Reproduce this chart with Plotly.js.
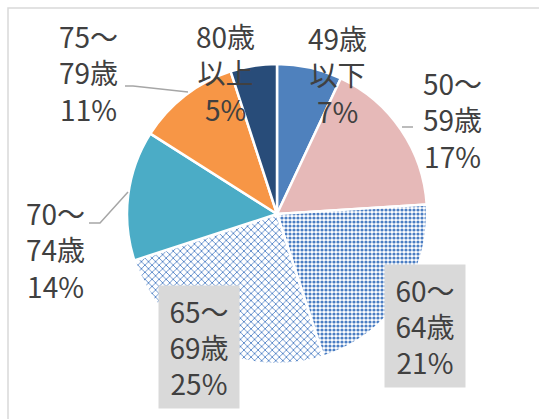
<!DOCTYPE html>
<html>
<head>
<meta charset="utf-8">
<script src="https://cdn.plot.ly/plotly-3.0.1.min.js"></script>
<style>html,body{margin:0;padding:0;background:#fff;}#chart{width:539px;height:419px;}</style>
</head>
<body>
<div id="chart"></div>
<script>
// ---- data ----
const categories = ['49歳以下', '50～59歳', '60～64歳', '65～69歳', '70～74歳', '75～79歳', '80歳以上'];
const displayLabels = ['49歳<br>以下', '50～<br>59歳', '60～<br>64歳', '65～<br>69歳', '70～<br>74歳', '75～<br>79歳', '80歳<br>以上'];
const values = [7, 17, 21, 25, 14, 11, 5];

// ---- styles ----
const colors = ['#4F81BD', '#E6B9B8', '#ffffff', '#ffffff', '#4BACC6', '#F79646', '#284C79'];
const patternShapes = ['', '', '.', 'x', '', '', ''];
const patternSizes = [6, 6, 4, 5, 6, 6, 6];
const patternSolidity = [0.3, 0.3, 0.5, 0.3, 0.3, 0.3, 0.3];
const W = 539, H = 419;
const px = x => x / W;
const py = y => 1 - y / H;

// label anchor positions (pixels) and whether boxed
const labelPos = [[337, 74], [452, 119], [425, 326], [199, 347], [55, 250], [88, 72], [225, 72]];
const boxed = [false, false, true, true, false, false, false];

const trace = {
  type: 'pie',
  labels: categories,
  values: values,
  sort: false,
  direction: 'clockwise',
  rotation: 0,
  textinfo: 'none',
  hoverinfo: 'skip',
  showlegend: false,
  domain: {x: [px(127), px(427)], y: [py(364), py(64)]},
  marker: {
    colors: colors,
    line: {color: '#ffffff', width: 2.5},
    pattern: {
      shape: patternShapes,
      fgcolor: '#4A7DC3',
      bgcolor: '#ffffff',
      size: patternSizes,
      solidity: patternSolidity
    }
  }
};

const annotations = categories.map((c, i) => {
  const a = {
    xref: 'paper', yref: 'paper',
    x: px(labelPos[i][0]), y: py(labelPos[i][1]),
    xanchor: 'center', yanchor: 'middle',
    text: displayLabels[i] + '<br>' + values[i] + '%',
    showarrow: false,
    align: 'center',
    font: {family: 'Noto Sans CJK JP, sans-serif', size: 28, color: '#404040'}
  };
  if (boxed[i]) {
    a.bgcolor = '#D9D9D9';
    a.width = 80;
    a.height = 122;
    a.borderpad = 0;
  }
  return a;
});

const lineStyle = {color: '#A6A6A6', width: 1.5};
const shapes = [
  {type: 'rect', xref: 'paper', yref: 'paper', x0: px(8), y0: -0.02, x1: 1.02, y1: py(8), line: {color: '#D9D9D9', width: 1.5}, fillcolor: 'rgba(0,0,0,0)', layer: 'below'},
  {type: 'path', xref: 'paper', yref: 'paper', path: `M ${px(402)} ${py(127)} L ${px(413)} ${py(127)}`, line: lineStyle},
  {type: 'path', xref: 'paper', yref: 'paper', path: `M ${px(89)} ${py(223)} L ${px(100)} ${py(223)} L ${px(128)} ${py(192)}`, line: lineStyle},
  {type: 'path', xref: 'paper', yref: 'paper', path: `M ${px(125)} ${py(86)} L ${px(133)} ${py(86)} L ${px(188)} ${py(92)}`, line: lineStyle}
];

const layout = {
  width: W, height: H,
  margin: {l: 0, r: 0, t: 0, b: 0},
  paper_bgcolor: '#ffffff',
  showlegend: false,
  annotations: annotations,
  shapes: shapes
};

Plotly.newPlot('chart', [trace], layout, {displayModeBar: false, staticPlot: true});
</script>
</body>
</html>
